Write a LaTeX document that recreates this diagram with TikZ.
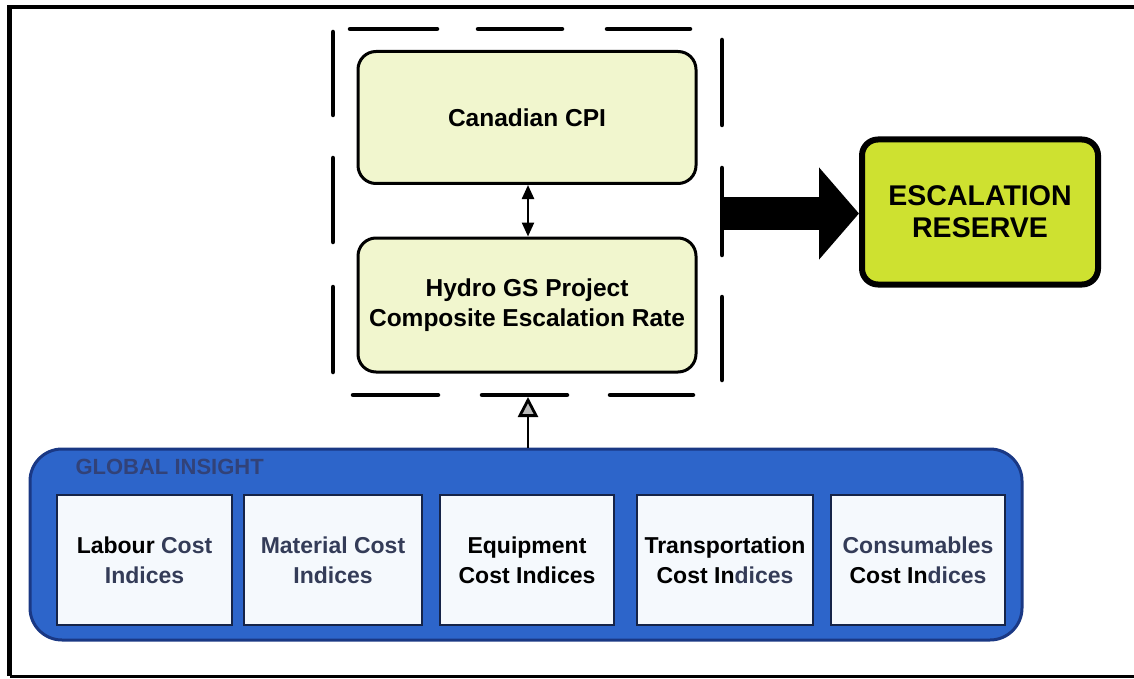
\documentclass[tikz,border=0pt]{standalone}
\usepackage{fontspec}
\setmainfont{Liberation Sans}
\usetikzlibrary{arrows.meta}

\definecolor{rateFill}{RGB}{241,246,206}
\definecolor{escFill}{RGB}{206,225,48}
\definecolor{giBlue}{RGB}{45,101,202}
\definecolor{giEdge}{RGB}{26,56,132}
\definecolor{giText}{RGB}{50,66,120}
\definecolor{indexFill}{RGB}{245,249,253}
\definecolor{indexEdge}{RGB}{22,36,72}
\definecolor{slate}{RGB}{52,60,88}

\tikzset{
  rateBox/.style={draw=black, line width=3pt, rounded corners=18pt, fill=rateFill,
    minimum width=338pt, minimum height=132pt, inner sep=0pt, align=center,
    font=\fontsize{24.5}{30}\selectfont\bfseries},
  escBox/.style={draw=black, line width=6pt, rounded corners=16pt, fill=escFill,
    minimum width=236pt, minimum height=145pt, inner sep=0pt, align=center,
    font=\fontsize{28.5}{32}\selectfont\bfseries},
  giBox/.style={draw=giEdge, line width=3pt, rounded corners=32pt, fill=giBlue,
    minimum width=992pt, minimum height=191pt, inner sep=0pt},
  indexBox/.style={draw=indexEdge, line width=2.5pt, fill=indexFill,
    minimum height=130pt, inner sep=0pt, align=center,
    font=\fontsize{23}{30}\selectfont\bfseries},
  dashseg/.style={line width=4.5pt, line cap=round},
  frameline/.style={line width=4.5pt, line join=miter},
}

\begin{document}
\begin{tikzpicture}[x=1pt, y=-1pt]
\useasboundingbox (0,0) rectangle (1134,679);

% page frame
\draw[frameline] (9.5,676) -- (9.5,7) -- (1134,7);
\draw[line width=3pt] (9.5,676) -- (1134,676);

% rate boxes
\node[rateBox] (cpi) at (527,117.5) {Canadian CPI};
\node[rateBox, minimum height=134pt] (hydro) at (527,305) {Hydro GS Project\\Composite Escalation Rate};

% dashed enclosure around the two rates
\draw[dashseg] (350,29) -- (437,29);
\draw[dashseg] (478,29) -- (562,29);
\draw[dashseg] (607,29) -- (690,29);
\draw[dashseg] (353,395) -- (438,395);
\draw[dashseg] (482,395) -- (567,395);
\draw[dashseg] (610,395) -- (693,395);
\draw[dashseg] (333,32) -- (333,115);
\draw[dashseg] (333,158) -- (333,242);
\draw[dashseg] (333,287) -- (333,372);
\draw[dashseg] (722,40) -- (722,125);
\draw[dashseg] (722,168) -- (722,255);
\draw[dashseg] (722,297) -- (722,380);

\coordinate (outlet) at (722,213.5);
\coordinate (inlet) at (528,397);

% escalation reserve
\node[escBox] (esc) at (980,212) {ESCALATION\\RESERVE};

% cost index group
\node[giBox] (gi) at (526,544.5) {};
\node[anchor=west, text=giText, font=\fontsize{22}{24}\selectfont\bfseries] (gilabel) at (72,467) {GLOBAL INSIGHT};

\node[indexBox, minimum width=175pt] (labour) at (144.5,560)
  {Labour \textcolor{slate}{Cost}\\\textcolor{slate}{Indices}};
\node[indexBox, minimum width=178pt, text=slate] (material) at (333,560)
  {Material Cost\\Indices};
\node[indexBox, minimum width=174pt] (equipment) at (527,560)
  {Equipment\\Cost Indices};
\node[indexBox, minimum width=176pt] (transport) at (725,560)
  {Transportation\\Cost In\textcolor{slate}{dices}};
\node[indexBox, minimum width=174pt] (consumables) at (918,560)
  {\textcolor{slate}{Consumables}\\Cost In\textcolor{slate}{dices}};

% connectors
\draw[line width=2.4pt, {Triangle[length=14pt,width=12pt]}-{Triangle[length=14pt,width=12pt]}]
  (cpi.south -| inlet) -- (hydro.north -| inlet);
\draw[line width=2.8pt, -{Triangle[length=20pt,width=20pt,fill=gray!55]}]
  (gi.north -| inlet) -- (inlet);
\draw[line width=33pt, -{Triangle[length=40pt,width=90pt]}] (outlet) -- (esc.west |- outlet);
\end{tikzpicture}
\end{document}
